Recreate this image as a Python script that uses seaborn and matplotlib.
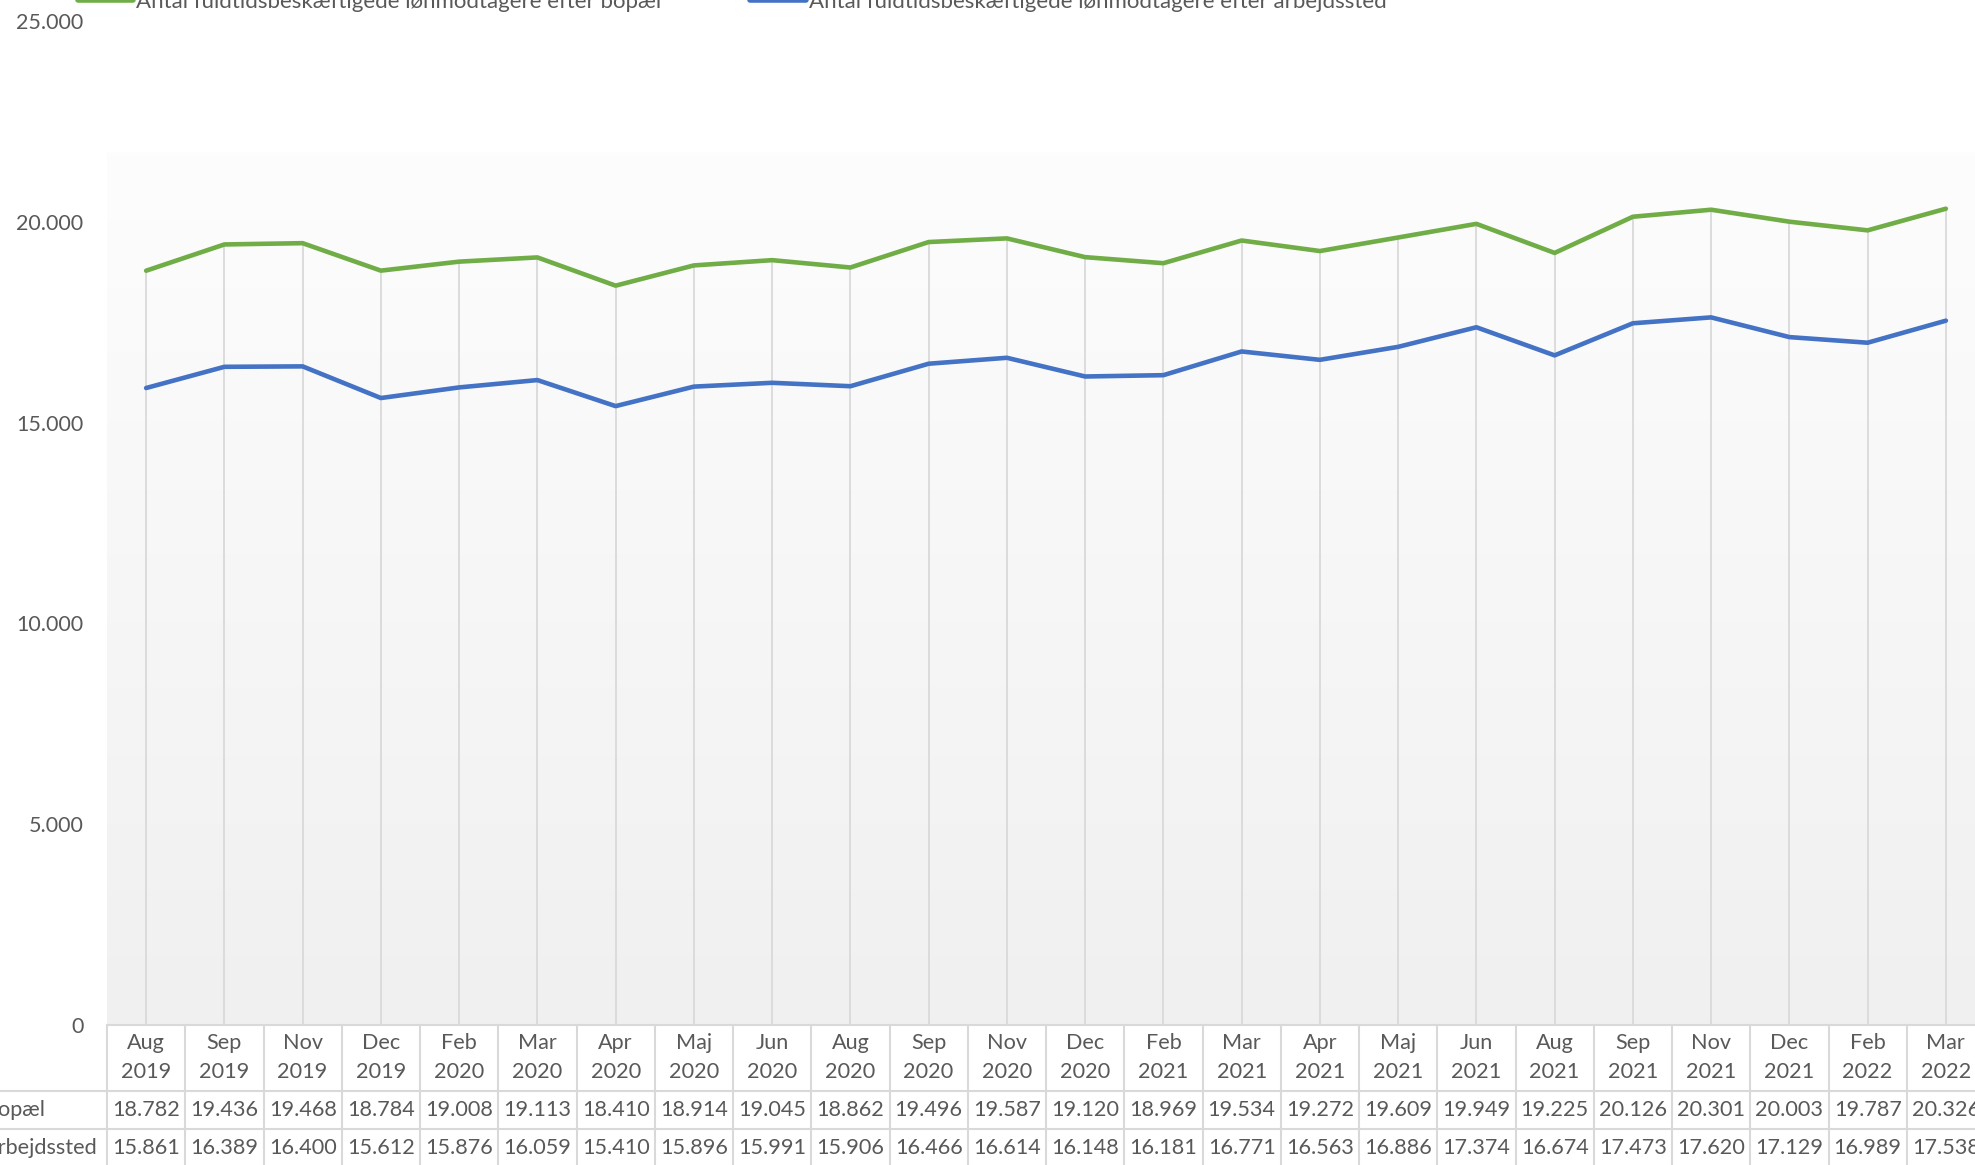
import numpy as np
import pandas as pd
import seaborn as sns
import matplotlib.pyplot as plt
from matplotlib.lines import Line2D
from matplotlib.colors import LinearSegmentedColormap
from matplotlib.ticker import FuncFormatter
import matplotlib.transforms as mtrans

months = ["Aug", "Sep", "Nov", "Dec", "Feb", "Mar", "Apr", "Maj", "Jun", "Aug",
          "Sep", "Nov", "Dec", "Feb", "Mar", "Apr", "Maj", "Jun", "Aug", "Sep",
          "Nov", "Dec", "Feb", "Mar"]
years = ["2019", "2019", "2019", "2019", "2020", "2020", "2020", "2020", "2020", "2020",
         "2020", "2020", "2020", "2021", "2021", "2021", "2021", "2021", "2021", "2021",
         "2021", "2021", "2022", "2022"]
bopael = [18782, 19436, 19468, 18784, 19008, 19113, 18410, 18914, 19045, 18862,
          19496, 19587, 19120, 18969, 19534, 19272, 19609, 19949, 19225, 20126,
          20301, 20003, 19787, 20326]
arbejdssted = [15861, 16389, 16400, 15612, 15876, 16059, 15410, 15896, 15991, 15906,
               16466, 16614, 16148, 16181, 16771, 16563, 16886, 17374, 16674, 17473,
               17620, 17129, 16989, 17538]

name_bo = "Antal fuldtidsbeskæftigede lønmodtagere efter bopæl"
name_arb = "Antal fuldtidsbeskæftigede lønmodtagere efter arbejdssted"
row_labels = ["bopæl", "arbejdssted"]
green = "#70AD47"
blue = "#4472C4"
txt = "#595959"
grid = "#D9D9D9"

sns.set_style("white")
plt.rcParams["font.family"] = ["Lato", "DejaVu Sans"]

pos = np.arange(len(months))
df = pd.DataFrame({
    "pos": np.concatenate([pos, pos]),
    "value": bopael + arbejdssted,
    "serie": [name_bo] * len(pos) + [name_arb] * len(pos),
})

W, H = 1975, 1165
fig = plt.figure(figsize=(W / 100, H / 100), dpi=100)
# plot area in pixel terms: left 107, top 21, bottom 1025, column width ~78.3
ax_left, ax_top, ax_bot, ax_right = 107, 21, 1025, 107 + 24 * 78.25
ax = fig.add_axes([ax_left / W, 1 - ax_bot / H, (ax_right - ax_left) / W, (ax_bot - ax_top) / H])

# plot area gradient
cmap = LinearSegmentedColormap.from_list("bg", ["#FDFDFD", "#F0F0F0"])
grad = np.linspace(0, 1, 256).reshape(-1, 1)
ax.imshow(grad, cmap=cmap, aspect="auto", extent=(0, 1, 0, (ax_bot - 152) / (ax_bot - ax_top)),
          transform=ax.transAxes, zorder=0, origin="upper")

# drop lines
ax.vlines(pos, 0, bopael, color=grid, lw=1.3, zorder=1)

sns.lineplot(data=df, x="pos", y="value", hue="serie", palette=[green, blue],
             lw=3.3, ax=ax, legend=False, zorder=3)

ax.set_xlim(-0.5, len(months) - 0.5)
ax.set_ylim(0, 25000)
ax.set_yticks(range(0, 25001, 5000))
ax.yaxis.set_major_formatter(FuncFormatter(lambda v, p: f"{int(v):,}".replace(",", ".")))
ax.tick_params(axis="y", length=0, pad=17, labelsize=15.5, labelcolor=txt)
ax.set_xticks([])
ax.set_xlabel("")
ax.set_ylabel("")
for s in ["top", "right", "left"]:
    ax.spines[s].set_visible(False)
ax.spines["bottom"].set_color(grid)
ax.spines["bottom"].set_linewidth(1.5)

# data table under the chart
def fy(py):
    return 1 - py / H

tr = mtrans.blended_transform_factory(ax.transData, fig.transFigure)
for i in range(len(months) + 1):
    fig.add_artist(Line2D([i - 0.5, i - 0.5], [fy(1025), fy(1170)], transform=tr,
                          color=grid, lw=1.5))
for py in [1091, 1129]:
    fig.add_artist(Line2D([0, 1], [fy(py), fy(py)], transform=fig.transFigure,
                          color=grid, lw=1.5))

fs = 15.6
for i in range(len(months)):
    fig.text(i, fy(1043), months[i], transform=tr, ha="center", va="center", fontsize=fs, color=txt)
    fig.text(i, fy(1072), years[i], transform=tr, ha="center", va="center", fontsize=fs, color=txt)
    fig.text(i, fy(1110), f"{bopael[i]:,}".replace(",", "."), transform=tr,
             ha="center", va="center", fontsize=fs, color=txt)
    fig.text(i, fy(1148), f"{arbejdssted[i]:,}".replace(",", "."), transform=tr,
             ha="center", va="center", fontsize=fs, color=txt)
fig.text(-13 / W, fy(1110), row_labels[0], ha="left", va="center", fontsize=fs, color=txt)
fig.text(-13 / W, fy(1148), row_labels[1], ha="left", va="center", fontsize=fs, color=txt)

# legend (cut off at the top of the picture)
for x0, x1, col, name in [(78, 133, green, name_bo), (750, 806, blue, name_arb)]:
    fig.add_artist(Line2D([x0 / W, x1 / W], [fy(0), fy(0)], transform=fig.transFigure,
                          color=col, lw=4))
    fig.text((x1 + 3) / W, fy(8), name, ha="left", va="baseline", fontsize=16, color=txt)

fig.savefig("out.png", dpi=100)
